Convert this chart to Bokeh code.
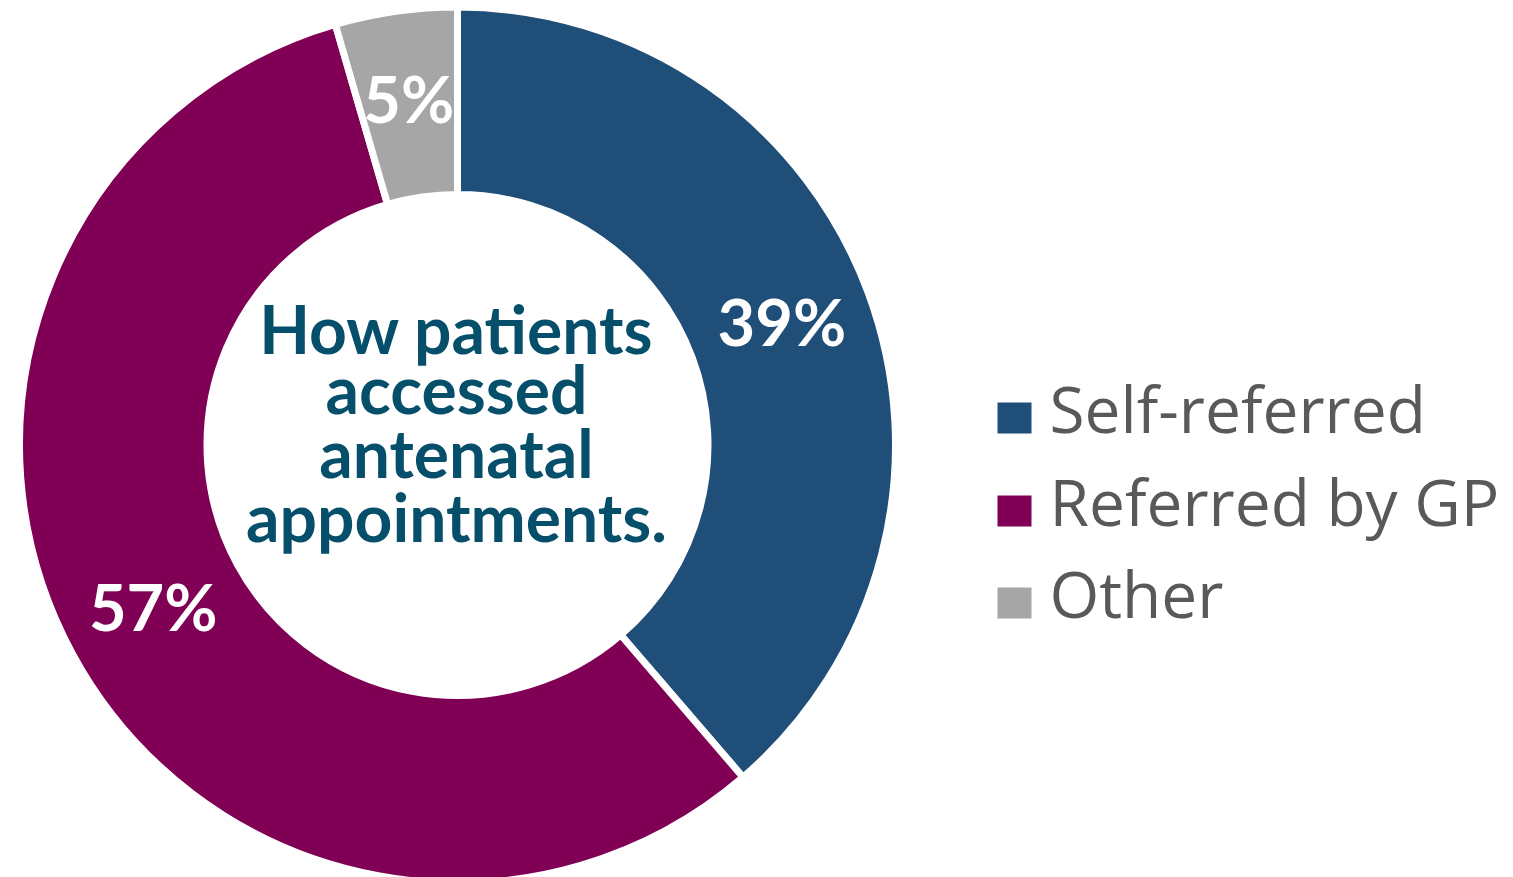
import math
from bokeh.plotting import figure
from bokeh.models import Range1d, ColumnDataSource
from bokeh.core.properties import value
from bokeh.embed import file_html
from bokeh.resources import INLINE

# ---- data ----
categories = ["Self-referred", "Referred by GP", "Other"]
shares = [38.7, 56.8, 4.5]
labels = ["39%", "57%", "5%"]
colors = ["#1F4E79", "#7F0055", "#A6A6A6"]
center_lines = ["How patients", "accessed", "antenatal", "appointments."]

W, H = 1513, 877
p = figure(width=W, height=H, output_backend="svg", toolbar_location=None,
           x_range=Range1d(0, W), y_range=Range1d(0, H),
           min_border=0, x_axis_type=None, y_axis_type=None)
p.grid.visible = False
p.outline_line_color = None
p.background_fill_color = "white"
p.border_fill_color = "white"

cx, cy = 457, 432.5
lw = 7
r_in, r_out = 254 - lw / 2, 434.5 + lw / 2
r_lab = 346

total = sum(shares)
starts, ends, lx, ly = [], [], [], []
a = math.pi / 2
for s in shares:
    span = s / total * 2 * math.pi
    starts.append(a)
    ends.append(a - span)
    mid = a - span / 2
    lx.append(cx + r_lab * math.cos(mid))
    ly.append(cy + r_lab * math.sin(mid))
    a -= span

src = ColumnDataSource(dict(start=starts, end=ends, color=colors, label=labels,
                            lx=lx, ly=ly, cat=categories))
p.annular_wedge(x=cx, y=cy, inner_radius=r_in, outer_radius=r_out,
                start_angle="start", end_angle="end", direction="clock",
                fill_color="color", line_color="white", line_width=lw, source=src)

p.text(x="lx", y="ly", text="label", source=src, text_color="white",
       text_font=value("Lato"), text_font_style="bold", text_font_size="65px",
       text_align="center", text_baseline="middle", y_offset=-4)

# center title
base_y = [549, 489, 425, 361]
p.text(x=[456] * len(center_lines), y=base_y, text=center_lines,
       text_color="#064F6B", text_font=value("Lato"), text_font_style="bold",
       text_font_size="66px", text_align="center", text_baseline="alphabetic")

# legend
leg_y = [444, 351, 259]
p.rect(x=[1014] * 3, y=[yy + 15.5 for yy in leg_y], width=34, height=31,
       fill_color=colors, line_color=None)
p.text(x=[1049] * 3, y=[yy + 25 for yy in leg_y], text=categories, text_color="#595959",
       text_font=value("Open Sans"), text_font_size="64px",
       text_align="left", text_baseline="alphabetic")

open("out.html", "w").write(file_html(p, INLINE))
